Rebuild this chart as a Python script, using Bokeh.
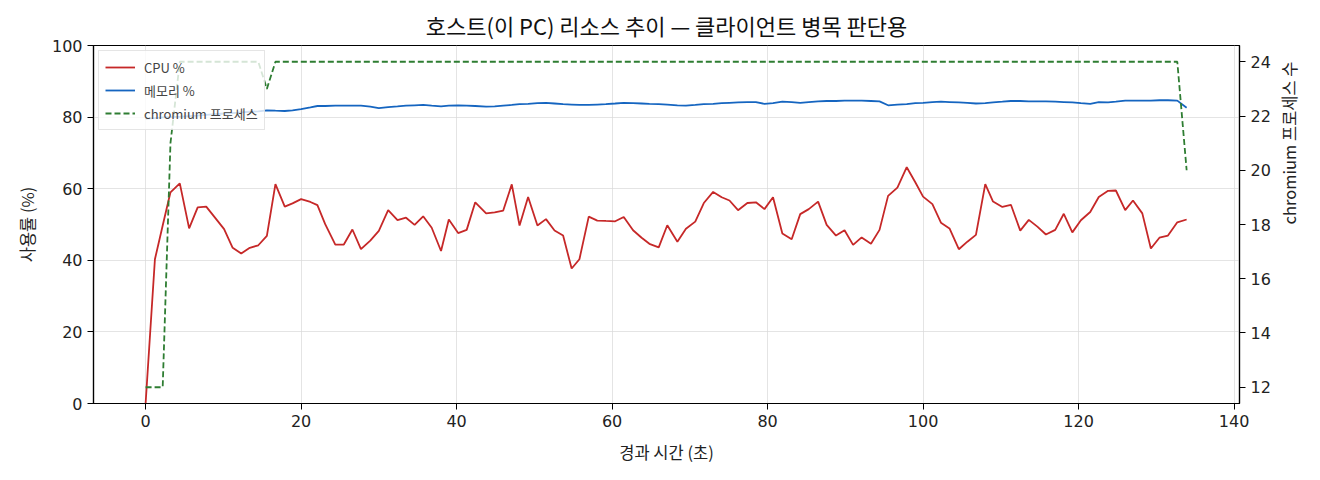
import math
from bokeh.plotting import figure
from bokeh.models import LinearAxis, Range1d, FixedTicker, Legend, LegendItem
from bokeh.embed import file_html
from bokeh.resources import INLINE

# 경과 시간 (초)
elapsed = [0.0, 1.2, 2.2, 3.2, 4.4, 5.6, 6.7, 7.8, 8.9, 10.1,
           11.2, 12.3, 13.4, 14.5, 15.6, 16.7, 17.9, 18.9, 20.0, 21.2,
           22.1, 23.1, 24.4, 25.5, 26.6, 27.7, 28.9, 30.0, 31.2, 32.4,
           33.5, 34.6, 35.7, 36.8, 38.0, 39.0, 40.2, 41.3, 42.4, 43.8,
           44.9, 46.0, 47.1, 48.1, 49.2, 50.4, 51.5, 52.6, 53.7, 54.8,
           55.8, 57.0, 58.1, 59.2, 60.4, 61.5, 62.7, 63.8, 64.8, 66.0,
           67.1, 68.4, 69.5, 70.7, 71.8, 73.0, 74.1, 75.1, 76.2, 77.4,
           78.5, 79.6, 80.7, 81.9, 83.1, 84.2, 85.3, 86.5, 87.6, 88.8,
           89.9, 91.0, 92.1, 93.3, 94.4, 95.5, 96.7, 97.9, 99.0, 100.0,
           101.2, 102.3, 103.4, 104.6, 105.7, 106.8, 108.0, 109.0, 110.2, 111.3,
           112.5, 113.6, 114.7, 115.8, 117.0, 118.1, 119.2, 120.3, 121.5, 122.6,
           123.8, 124.8, 126.0, 127.0, 128.2, 129.3, 130.4, 131.5, 132.7, 133.9]

cpu_pct = [0.0, 40.3, 49.7, 59.0, 61.5, 48.9, 54.8, 55.0, 52.0, 48.7,
           43.5, 41.9, 43.5, 44.2, 46.8, 61.3, 55.0, 55.9, 57.1, 56.3,
           55.4, 50.1, 44.4, 44.4, 48.6, 43.1, 45.5, 48.2, 54.0, 51.2,
           51.9, 49.9, 52.3, 49.1, 42.6, 51.4, 47.6, 48.5, 56.2, 53.1,
           53.4, 53.9, 61.2, 49.7, 57.7, 49.7, 51.5, 48.3, 46.9, 37.7,
           40.3, 52.2, 51.1, 51.0, 50.9, 52.1, 48.4, 46.3, 44.6, 43.6,
           49.8, 45.2, 48.8, 50.8, 56.0, 59.1, 57.6, 56.7, 54.0, 56.0,
           56.2, 54.3, 57.6, 47.5, 45.9, 52.9, 54.3, 56.4, 49.9, 46.9,
           48.4, 44.3, 46.4, 44.6, 48.5, 58.0, 60.3, 66.0, 61.8, 57.8,
           55.7, 50.5, 48.9, 43.1, 45.2, 47.1, 61.3, 56.4, 54.9, 55.5,
           48.3, 51.3, 49.4, 47.2, 48.5, 53.0, 47.8, 51.2, 53.5, 57.7,
           59.4, 59.5, 54.0, 56.7, 53.1, 43.3, 46.3, 46.9, 50.6, 51.4]

mem_pct = [79.6, 79.7, 79.9, 80.0, 80.1, 80.3, 80.4, 80.6, 80.8, 81.0,
           81.1, 81.3, 81.5, 81.6, 81.9, 81.8, 81.7, 81.9, 82.2, 82.7,
           83.1, 83.1, 83.2, 83.2, 83.2, 83.2, 82.9, 82.5, 82.8, 83.0,
           83.2, 83.3, 83.4, 83.2, 83.0, 83.2, 83.3, 83.2, 83.1, 82.9,
           83.0, 83.2, 83.4, 83.6, 83.7, 83.9, 84.0, 83.8, 83.6, 83.5,
           83.4, 83.4, 83.5, 83.6, 83.8, 84.0, 83.9, 83.8, 83.7, 83.6,
           83.5, 83.3, 83.2, 83.4, 83.6, 83.7, 83.9, 84.0, 84.1, 84.2,
           84.2, 83.7, 83.9, 84.3, 84.2, 84.0, 84.2, 84.4, 84.5, 84.5,
           84.6, 84.6, 84.6, 84.5, 84.4, 83.3, 83.5, 83.6, 83.9, 84.0,
           84.2, 84.3, 84.2, 84.1, 84.0, 83.8, 83.9, 84.1, 84.3, 84.5,
           84.5, 84.4, 84.4, 84.4, 84.3, 84.2, 84.1, 83.9, 83.7, 84.2,
           84.1, 84.3, 84.6, 84.6, 84.6, 84.6, 84.7, 84.7, 84.6, 82.6]

chromium_procs = [12, 12, 12, 21, 24, 24, 24, 24, 24, 24,
                  24, 24, 24, 24, 23, 24, 24, 24, 24, 24] + [24] * 99 + [20]

x_ticks = [0, 20, 40, 60, 80, 100, 120, 140]
pct_ticks = [0, 20, 40, 60, 80, 100]
proc_ticks = [12, 14, 16, 18, 20, 22, 24]

FONT = "Noto Sans CJK KR"
NUM_FONT = "DejaVu Sans"

p = figure(width=1320, height=480, output_backend="svg", toolbar_location=None,
           x_range=Range1d(-6.7, 140.7), y_range=Range1d(0, 100),
           min_border_left=93, min_border_right=81, min_border_top=45, min_border_bottom=77,
           title="호스트(이 PC) 리소스 추이 — 클라이언트 병목 판단용")
p.extra_y_ranges = {"procs": Range1d(11.4, 24.6)}

p.title.align = "center"
p.title.text_font = FONT
p.title.text_font_size = "22px"
p.title.text_font_style = "normal"
p.title.text_color = "#111111"

p.outline_line_color = "black"
p.outline_line_width = 1.2
p.xgrid.grid_line_color = "#d9d9d9"
p.ygrid.grid_line_color = "#d9d9d9"
p.xgrid.grid_line_alpha = 0.7
p.ygrid.grid_line_alpha = 0.7

right_axis = LinearAxis(y_range_name="procs", axis_label="chromium 프로세스 수")
right_axis.axis_label_orientation = math.pi / 2
p.add_layout(right_axis, "right")

p.xaxis.ticker = FixedTicker(ticks=x_ticks)
p.yaxis[0].ticker = FixedTicker(ticks=pct_ticks)
right_axis.ticker = FixedTicker(ticks=proc_ticks)
p.xaxis.axis_label = "경과 시간 (초)"
p.yaxis[0].axis_label = "사용률 (%)"

for ax in p.xaxis + p.yaxis:
    ax.axis_line_color = "black"
    ax.axis_line_width = 1.2
    ax.major_tick_in = 0
    ax.major_tick_out = 6
    ax.major_tick_line_color = "black"
    ax.minor_tick_line_color = None
    ax.major_label_standoff = 5
    ax.major_label_text_font = NUM_FONT
    ax.major_label_text_font_size = "16px"
    ax.major_label_text_color = "#222222"
    ax.axis_label_text_font = FONT
    ax.axis_label_text_font_size = "16.5px"
    ax.axis_label_text_font_style = "normal"
    ax.axis_label_text_color = "#222222"
    ax.axis_label_standoff = 10
right_axis.axis_label_standoff = 15

r_cpu = p.line(elapsed, cpu_pct, line_color="#c62828", line_width=1.8)
r_mem = p.line(elapsed, mem_pct, line_color="#1565c0", line_width=1.8)
r_proc = p.line(elapsed, chromium_procs, line_color="#2e7d32", line_width=1.8,
                line_dash="6 3", y_range_name="procs")

legend = Legend(items=[LegendItem(label="CPU %", renderers=[r_cpu]),
                       LegendItem(label="메모리 %", renderers=[r_mem]),
                       LegendItem(label="chromium 프로세스", renderers=[r_proc])],
                location="top_left")
legend.margin = 5
legend.padding = 6
legend.spacing = 3
legend.glyph_width = 30
legend.glyph_height = 20
legend.label_height = 20
legend.label_text_font = FONT
legend.label_text_font_size = "13px"
legend.label_standoff = 9
legend.border_line_color = "#cccccc"
legend.background_fill_alpha = 0.8
p.add_layout(legend)

open("out.html", "w").write(file_html(p, INLINE))
